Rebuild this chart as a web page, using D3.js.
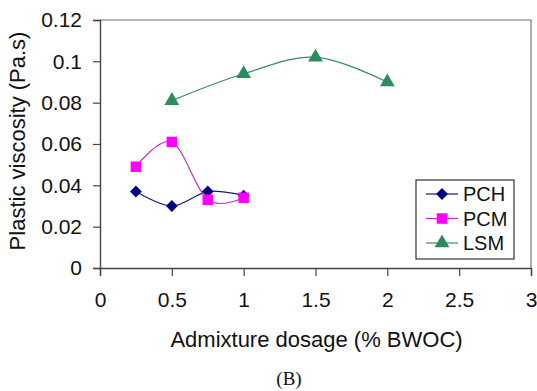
<!DOCTYPE html>
<html>
<head>
<meta charset="utf-8">
<script src="https://cdn.jsdelivr.net/npm/d3@7/dist/d3.min.js"></script>
<style>
  html, body { margin: 0; padding: 0; background: #fff; }
  svg { display: block; }
  text { font-family: "Liberation Sans", Arial, sans-serif; fill: #111; }
</style>
</head>
<body>
<svg id="chart" width="537" height="391"></svg>
<script>
// Plastic viscosity versus admixture dosage for three admixtures
const seriesNames = ["PCH", "PCM", "LSM"];
const pchDosage = [0.25, 0.5, 0.75, 1.0];
const pchValues = [0.037, 0.030, 0.037, 0.035];
const pcmDosage = [0.25, 0.5, 0.75, 1.0];
const pcmValues = [0.049, 0.061, 0.033, 0.034];
const lsmDosage = [0.5, 1.0, 1.5, 2.0];
const lsmValues = [0.081, 0.094, 0.102, 0.090];
const xTicks = [0, 0.5, 1, 1.5, 2, 2.5, 3];
const yTicks = [0, 0.02, 0.04, 0.06, 0.08, 0.1, 0.12];

// square-proportioned rhombus marker
const rhombus = {
  draw(ctx, size) {
    const r = Math.sqrt(size / 2);
    ctx.moveTo(0, -r); ctx.lineTo(r, 0); ctx.lineTo(0, r); ctx.lineTo(-r, 0); ctx.closePath();
  }
};

const series = [
  { name: seriesNames[0], x: pchDosage, y: pchValues, color: "#000080", line: "#1a1a6e", symbol: rhombus, size: 70 },
  { name: seriesNames[1], x: pcmDosage, y: pcmValues, color: "#ff00ff", line: "#c030c0", symbol: d3.symbolSquare, size: 110 },
  { name: seriesNames[2], x: lsmDosage, y: lsmValues, color: "#2e8b5f", line: "#3a8a6a", symbol: d3.symbolTriangle, size: 95 }
];

const svg = d3.select("#chart");
const plot = { left: 100, right: 531, top: 20, bottom: 268 };

const x = d3.scaleLinear().domain([0, 3]).range([plot.left, plot.right]);
const y = d3.scaleLinear().domain([0, 0.12]).range([plot.bottom, plot.top]);

// frame on top and right
svg.append("path")
  .attr("d", `M${plot.left},${plot.top}H${plot.right}V${plot.bottom}`)
  .attr("fill", "none").attr("stroke", "#777").attr("stroke-width", 1.2);

const fmt = d => (d === 0 ? "0" : String(+d.toFixed(2)));

const yAxis = svg.append("g")
  .attr("transform", `translate(${plot.left},0)`)
  .call(d3.axisLeft(y).tickValues(yTicks).tickFormat(fmt).tickSize(7).tickPadding(11));
yAxis.selectAll("text").style("font-size", "21px");

const xAxis = svg.append("g")
  .attr("transform", `translate(0,${plot.bottom})`)
  .call(d3.axisBottom(x).tickValues(xTicks).tickFormat(fmt).tickSize(8).tickPadding(16));
xAxis.selectAll("text").style("font-size", "21px");

[yAxis, xAxis].forEach(a => {
  a.select(".domain").attr("stroke", "#444").attr("stroke-width", 1.4);
  a.selectAll(".tick line").attr("stroke", "#444").attr("stroke-width", 1.2);
  a.selectAll("text").attr("fill", "#111");
});

// smoothed series lines with markers
const line = d3.line().x(d => x(d[0])).y(d => y(d[1])).curve(d3.curveCatmullRom.alpha(0));

series.forEach(s => {
  const pts = s.x.map((v, i) => [v, s.y[i]]);
  svg.append("path")
    .attr("d", line(pts))
    .attr("fill", "none").attr("stroke", s.line).attr("stroke-width", 1.2);
  svg.append("g").selectAll("path").data(pts).join("path")
    .attr("transform", d => `translate(${x(d[0])},${y(d[1])})`)
    .attr("d", d3.symbol(s.symbol, s.size))
    .attr("fill", s.color);
});

// axis titles
svg.append("text")
  .attr("x", (plot.left + plot.right) / 2 + 1).attr("y", 347)
  .attr("text-anchor", "middle").style("font-size", "22px")
  .text("Admixture dosage (% BWOC)");

svg.append("text")
  .attr("transform", "translate(25,141) rotate(-90)")
  .attr("text-anchor", "middle").style("font-size", "22px")
  .text("Plastic viscosity (Pa.s)");

// legend
const lg = svg.append("g").attr("transform", "translate(416,180)");
lg.append("rect").attr("width", 98).attr("height", 79)
  .attr("fill", "#fff").attr("stroke", "#333").attr("stroke-width", 1.2);
series.forEach((s, i) => {
  const cy = 14 + i * 24.5;
  lg.append("line").attr("x1", 10).attr("x2", 42).attr("y1", cy).attr("y2", cy)
    .attr("stroke", s.line).attr("stroke-width", 1.2);
  lg.append("path").attr("transform", `translate(26,${cy})`)
    .attr("d", d3.symbol(s.symbol, s.size)).attr("fill", s.color);
  lg.append("text").attr("x", 47).attr("y", cy + 7)
    .style("font-size", "20px").text(s.name);
});

// panel label
svg.append("text")
  .attr("x", 289).attr("y", 385).attr("text-anchor", "middle")
  .style("font-family", "'Liberation Serif', 'Times New Roman', serif")
  .style("font-size", "19px")
  .text("(B)");
</script>
</body>
</html>
